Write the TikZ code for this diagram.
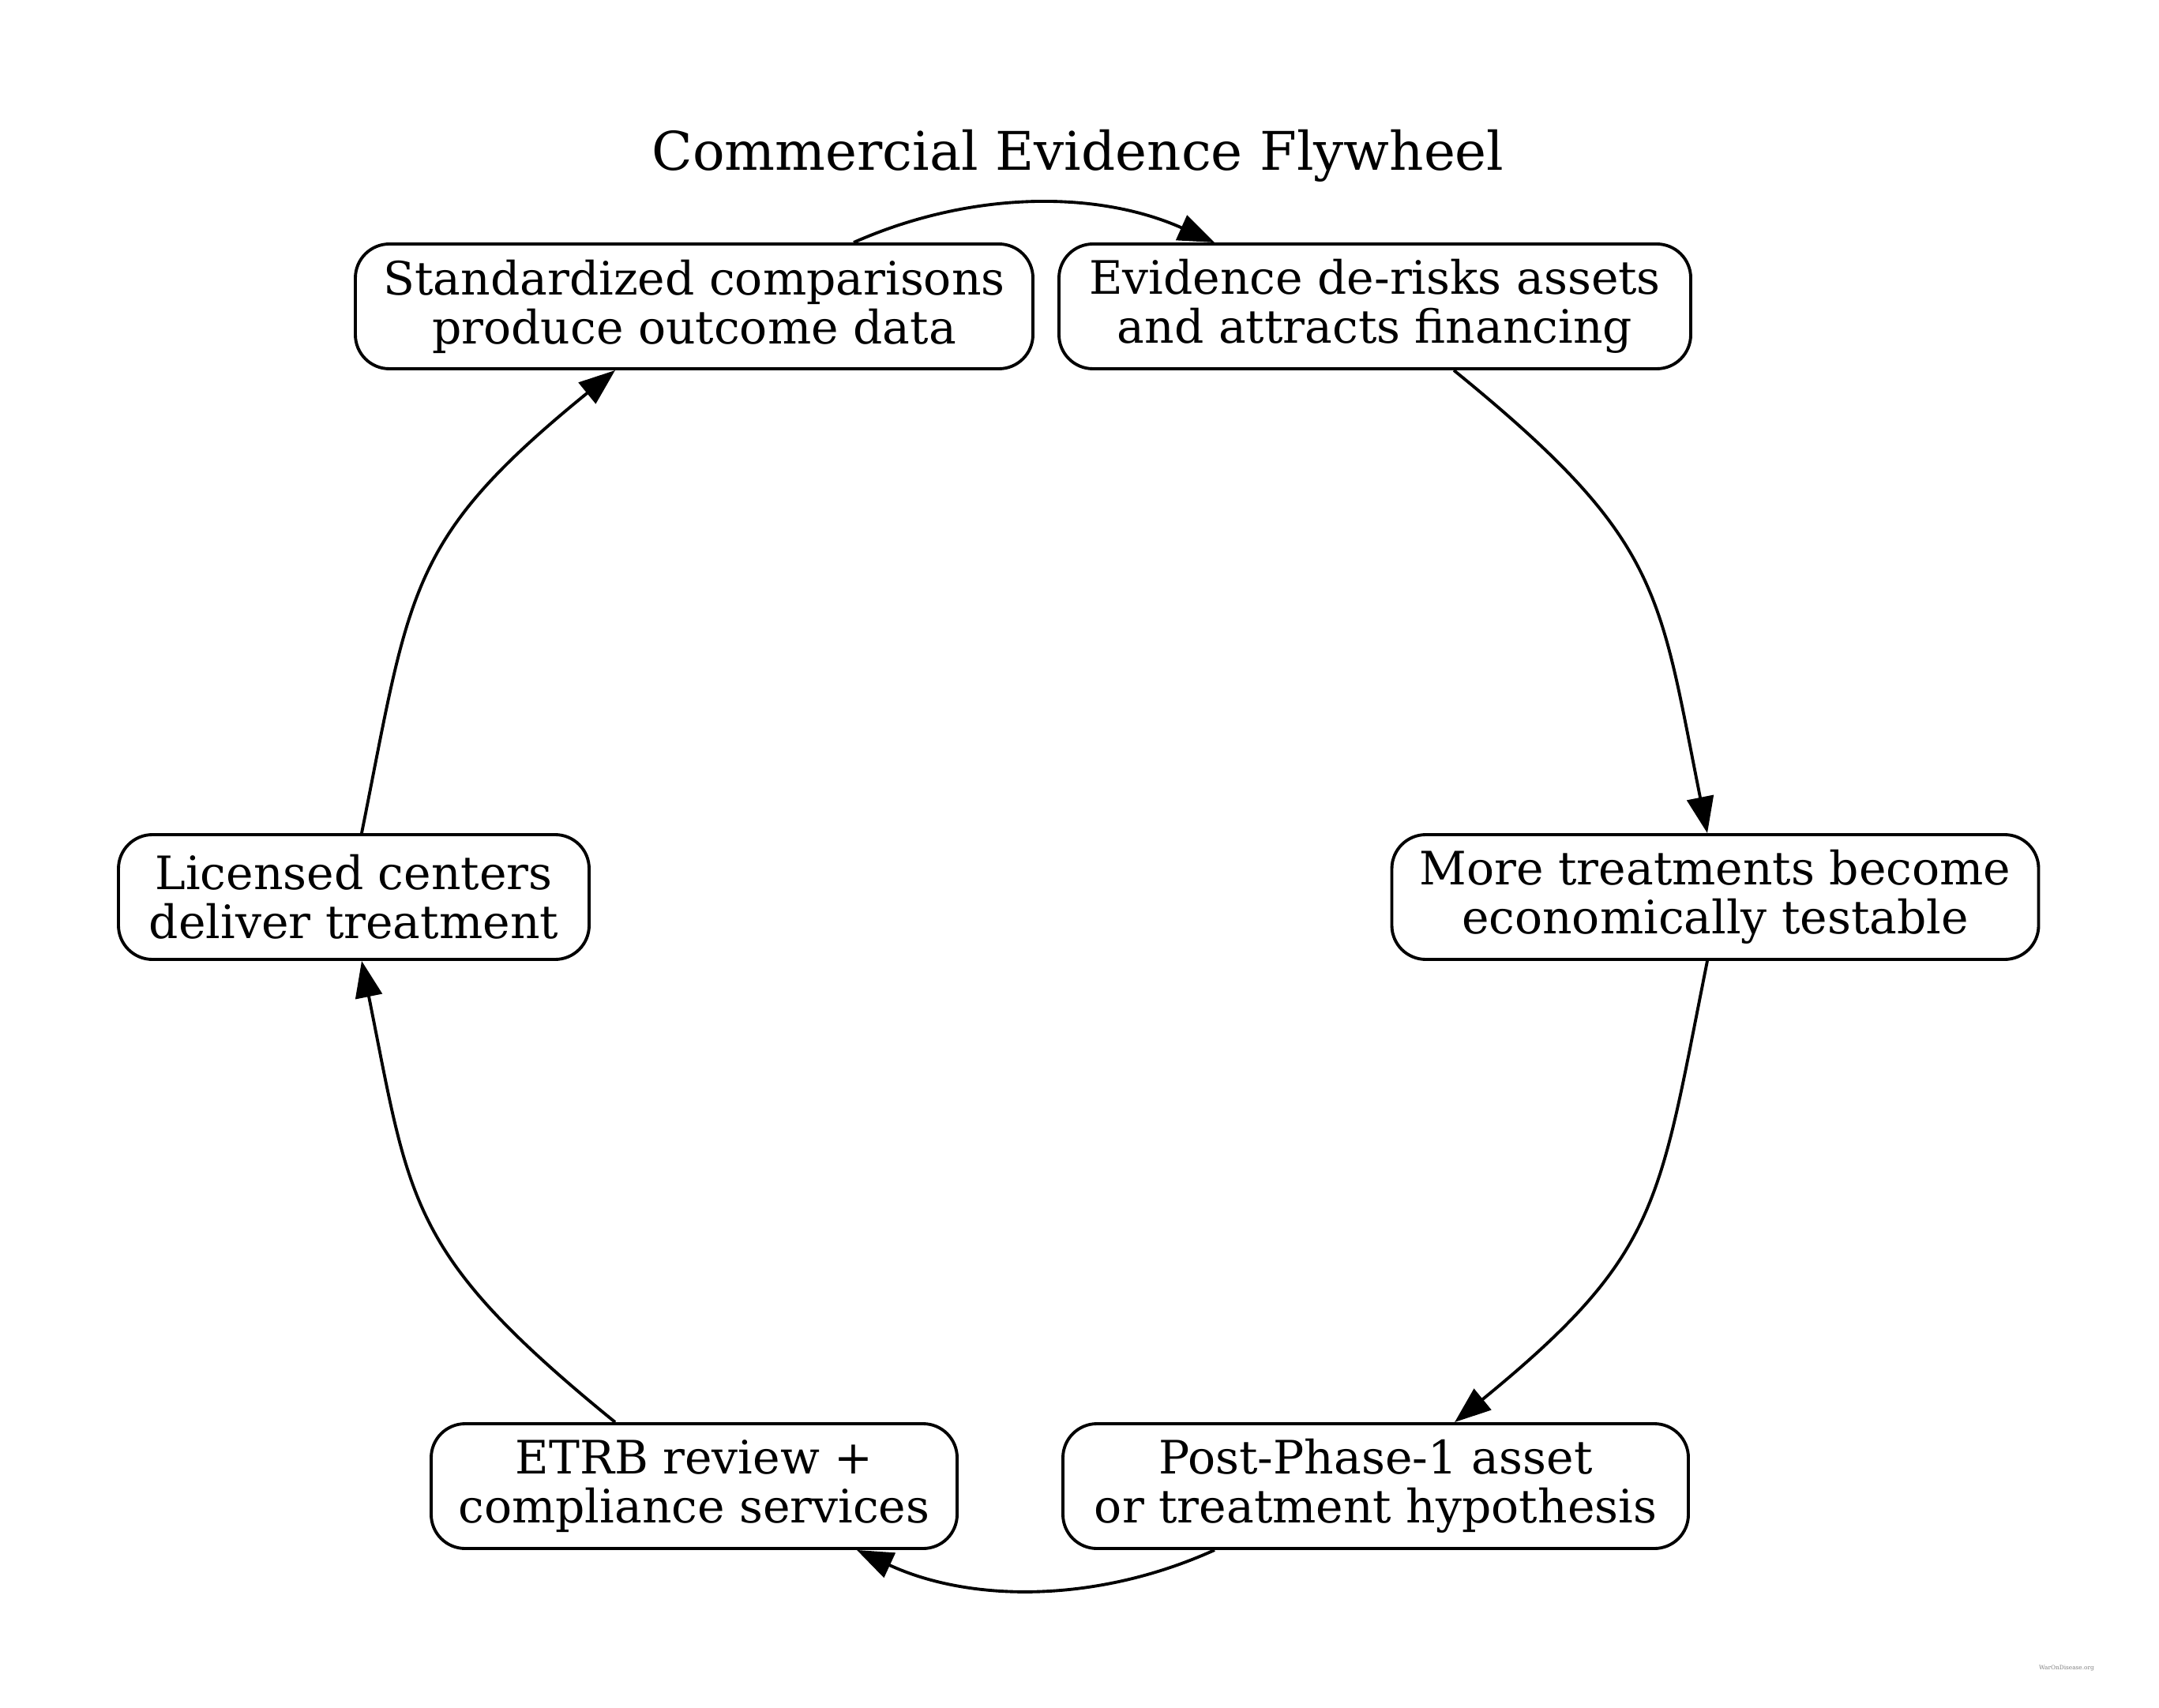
\documentclass[tikz,border=0pt]{standalone}
\usepackage{fontspec}
\setmainfont{DejaVu Serif}
\usetikzlibrary{arrows.meta}
\begin{document}
\begin{tikzpicture}[x=1cm,y=1cm,
  box/.style={draw, line width=1.1pt, rounded corners=0.43cm, inner sep=0pt, align=center,
    minimum height=1.58cm, font=\fontsize{16.6}{17.6}\selectfont},
  conn/.style={line width=1.1pt, -{Triangle[length=0.46cm,width=0.34cm]}}]
\useasboundingbox (0,0) rectangle (27.34,-21.63);
\node (title) at (13.65,-1.97) {\fontsize{19.2}{22}\selectfont Commercial Evidence Flywheel};
\node[box, minimum width=8.58cm] (std) at (8.79,-3.88) {Standardized comparisons\\produce outcome data};
\node[box, minimum width=8.00cm] (evi) at (17.41,-3.88) {Evidence de-risks assets\\and attracts financing};
\node[box, minimum width=8.19cm] (more) at (21.72,-11.36) {More treatments become\\economically testable};
\node[box, minimum width=7.92cm] (post) at (17.42,-18.82) {Post-Phase-1 asset\\or treatment hypothesis};
\node[box, minimum width=6.66cm] (etrb) at (8.79,-18.82) {ETRB review +\\compliance services};
\node[box, minimum width=5.96cm] (lic) at (4.48,-11.36) {Licensed centers\\deliver treatment};
\node[text=black!50, font=\fontsize{2.1}{2.5}\selectfont] (wm) at (26.17,-21.13) {WarOnDisease.org};
\draw[conn] ([xshift=2.02cm]std.north) .. controls (12.30,-2.41) and (13.90,-2.41) .. ([xshift=-2.03cm]evi.north);
\draw[conn] ([xshift=1.00cm]evi.south) .. controls (21.04,-6.83) and (21.00,-7.45) .. ([xshift=-0.10cm]more.north);
\draw[conn] ([xshift=-0.10cm]more.south) .. controls (21.00,-15.25) and (21.04,-15.87) .. ([xshift=1.00cm]post.north);
\draw[conn] ([xshift=-2.04cm]post.south) .. controls (13.90,-20.30) and (12.30,-20.30) .. ([xshift=2.06cm]etrb.south);
\draw[conn] ([xshift=-1.00cm]etrb.north) .. controls (5.16,-15.87) and (5.20,-15.25) .. ([xshift=0.10cm]lic.south);
\draw[conn] ([xshift=0.10cm]lic.north) .. controls (5.20,-7.45) and (5.16,-6.83) .. ([xshift=-1.00cm]std.south);
\end{tikzpicture}
\end{document}
